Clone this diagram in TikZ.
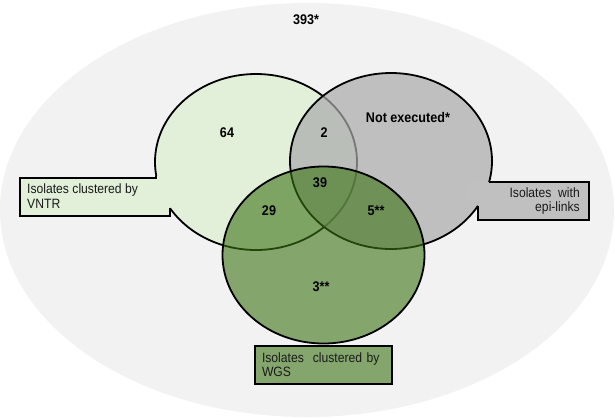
\documentclass[tikz,border=0pt]{standalone}
\usepackage{fontspec}
\setmainfont[FakeStretch=0.9]{Liberation Sans}
\usepackage{xcolor}
\usepackage{tikz}
\usetikzlibrary{positioning,calc}
\definecolor{universe}{HTML}{F2F2F2}
\definecolor{vntrshade}{HTML}{E2EFD9}
\definecolor{epishade}{HTML}{AAAAAA}
\definecolor{epibox}{HTML}{C0C0C0}
\definecolor{wgsshade}{RGB}{59,115,20}
\definecolor{wgsbox}{HTML}{84A66D}
\definecolor{ink}{HTML}{1A1A1A}
\tikzset{
  setline/.style={draw=black, line width=1.8pt},
  count/.style={font=\fontsize{14}{15}\selectfont\bfseries, text=black, inner sep=0pt},
  tag/.style={font=\fontsize{13.5}{14.5}\selectfont, text=ink, inner sep=0pt},
}

\begin{document}
\begin{tikzpicture}[x=1pt, y=-1pt]
  \useasboundingbox (0,0) rectangle (615,418);
  \fill[white] (0,0) rectangle (615,418);
  \fill[universe] (307,210) ellipse [x radius=307, y radius=207];

  \coordinate (cv) at (256,162);
  \coordinate (ce) at (391,161);
  \coordinate (cw) at (323.5,255);

  % VNTR set with its callout
  \path[fill=vntrshade, setline] (cv) ellipse [x radius=101, y radius=88];
  \coordinate (v1) at (156.3,176);
  \coordinate (v2) at (170,208);
  \fill[vntrshade] (v1) -- (156.3,178) -- (20,178) -- (20,216) -- (170,216) -- (v2)
    -- (185,200) -- (175,176) -- cycle;
  \draw[setline] (v1) -- (156.3,178) -- (20,178) -- (20,216) -- (170,216) -- (v2);

  % epi-link set with its callout
  \path[fill=epishade, fill opacity=0.7, setline] (ce) ellipse [x radius=101, y radius=88];
  \coordinate (e1) at (489,182);
  \coordinate (e2) at (478,205.7);
  \fill[epibox] (e1) -- (589,182) -- (589,220) -- (478,220) -- (e2)
    -- (465,200) -- (470,180) -- cycle;
  \draw[setline] (e1) -- (589,182) -- (589,220) -- (478,220) -- (e2);

  % WGS set
  \path[fill=wgsshade, fill opacity=0.6, setline] (cw) ellipse [x radius=101, y radius=88.5];
  \node[tag, setline, fill=wgsbox, minimum width=137pt, minimum height=38pt,
        text width=127pt, inner xsep=5pt, align=left, anchor=north]
        (wgslabel) at (323.5,345) {\hspace*{2pt}Isolates\ \ clustered by\\\hspace*{2pt}WGS};

  \node[tag, anchor=west, align=left] (vntrlabel) at (27,196) {Isolates clustered by\\VNTR};
  \node[tag, anchor=east, align=right] (epilabel) at (580,201) {Isolates\ \ with\\epi-links};

  \node[count] (total) at (306,20) {393*};
  \node[count] (onlyvntr) at (227,133) {64};
  \node[count] (vntrepi) at (324,133) {2};
  \node[count] (onlyepi) at (408,117) {Not executed*};
  \node[count] (allthree) at (320,183) {39};
  \node[count] (vntrwgs) at (269,211) {29};
  \node[count] (epiwgs) at (376,211) {5**};
  \node[count] (onlywgs) at (321,287) {3**};
\end{tikzpicture}
\end{document}
